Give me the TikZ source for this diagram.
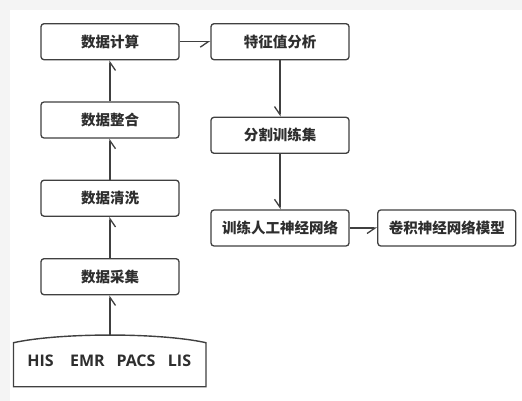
\documentclass[tikz,border=0pt]{standalone}
\usepackage{fontspec}
\setmainfont{Open Sans}
\newfontfamily\cjk{Noto Sans CJK SC}
\usetikzlibrary{arrows.meta}
\definecolor{ln}{HTML}{404040}
\definecolor{tx}{HTML}{2e2e2e}
\tikzset{
  box/.style={draw=ln, line width=1.3pt, rounded corners=3pt, fill=white,
    minimum width=138pt, minimum height=36pt, inner sep=0pt,
    font=\cjk\bfseries\fontsize{14.5}{16}\selectfont, text=tx},
  arr/.style={draw=ln, line width=1.3pt, -{Straight Barb[right, length=8pt, width=11pt]}},
  lat/.style={font=\bfseries\fontsize{16}{18}\selectfont, text=tx, inner sep=0pt}
}
\begin{document}
\begin{tikzpicture}[x=1pt,y=-1pt]
\useasboundingbox (0,0) rectangle (522,401);
\fill[gray!9] (0,0) rectangle (522,401);
\fill[white] (10,10) rectangle (522,401);
% left column
\node[box] (calc) at (110,41.7) {数据计算};
\node[box] (merge) at (110,120) {数据整合};
\node[box] (clean) at (110,198.2) {数据清洗};
\node[box] (coll) at (110,276.7) {数据采集};
% right column
\node[box] (feat) at (280,41.7) {特征值分析};
\node[box] (split) at (280,135.3) {分割训练集};
\node[box] (train) at (280,228) {训练人工神经网络};
\node[box] (cnn) at (446.8,228) {卷积神经网络模型};
% data sources
\draw[ln, line width=1.4pt] (13.5,386.7) -- (13.5,342.7) .. controls (60,332.5) and (160,332.5) .. (206,342.7) -- (206,386.7) -- cycle;
\coordinate (src) at (110,335);
\node[lat] (his) at (40.5,361) {HIS};
\node[lat] (emr) at (87.5,361) {EMR};
\node[lat] (pacs) at (136,361) {PACS};
\node[lat] (lis) at (179.5,361) {LIS};
% arrows
\draw[arr] (src) -- (coll.south);
\draw[arr] (coll) -- (clean);
\draw[arr] (clean) -- (merge);
\draw[arr] (merge) -- (calc);
\draw[arr] (calc) -- (feat);
\draw[arr] (feat) -- (split);
\draw[arr] (split) -- (train);
\draw[arr] (train) -- (cnn);
\end{tikzpicture}
\end{document}
